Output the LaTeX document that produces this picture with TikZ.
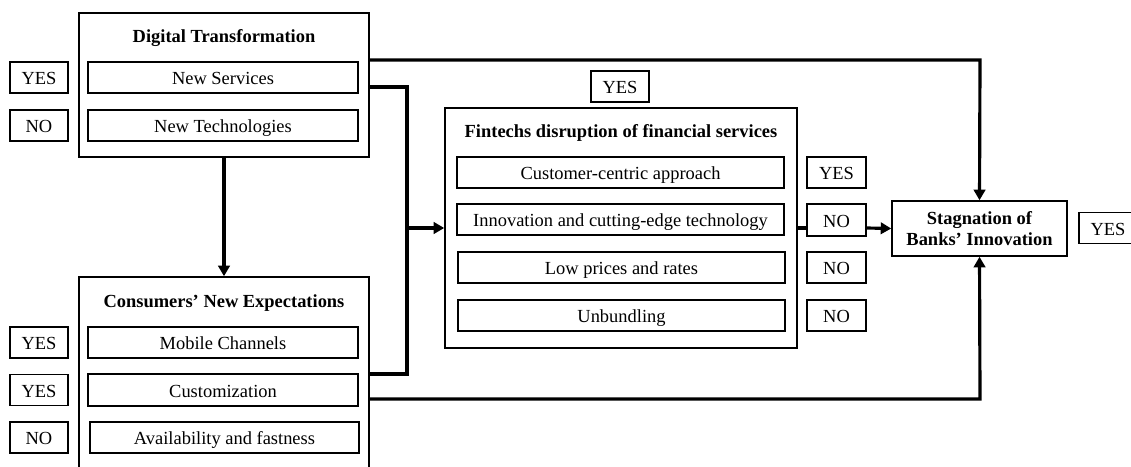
\documentclass[tikz,border=0pt]{standalone}
\usepackage{fontspec}
\setmainfont{Liberation Serif}
\usetikzlibrary{arrows.meta,calc}
\begin{document}
\begin{tikzpicture}[x=0.02cm,y=-0.02cm,
  font=\fontsize{10.5}{12}\selectfont,
  rbox/.style 2 args={draw, line width=0.85pt, inner sep=0pt,
    minimum width=#1*0.02cm, minimum height=#2*0.02cm,
    text height=8pt, text depth=0pt},
  item/.style={rbox={270}{31}},
  fitem/.style={rbox={327}{31}},
  ans/.style={rbox={58}{31}},
  ttl/.style={font=\fontsize{10.5}{12}\selectfont\bfseries, align=center},
  conn/.style={line width=1.8pt},
  arr/.style={conn, -{Triangle[length=6pt,width=6.5pt]}}]
\useasboundingbox (0,0) rectangle (1131,466);
\clip (0,0) rectangle (1131,466);

% Digital Transformation group
\node[rbox={290}{144}] (dt) at (224,85) {};
\node[ttl] (dtt) at (224,38) {Digital Transformation};
\node[item] (ns) at (223,77.5) {New Services};
\node[item] (nt) at (223,125.5) {New Technologies};
\node[ans] (a1) at (39,77.5) {YES};
\node[ans] (a2) at (39,125.5) {NO};

% Consumers' New Expectations group (runs past the lower edge)
\node[rbox={290}{222}] (cne) at (224,388) {};
\node[ttl] (cnet) at (224,303) {Consumers’ New Expectations};
\node[item] (mc) at (223,342.5) {Mobile Channels};
\node[rbox={270}{32}] (cu) at (223,390) {Customization};
\node[rbox={269}{31}] (av) at (224.5,437.5) {Availability and fastness};
\node[ans] (a3) at (39,342.5) {YES};
\node[ans] (a4) at (39,390) {YES};
\node[ans] (a5) at (39,437.5) {NO};

% Fintechs group
\node[rbox={352}{240}] (fd) at (621,228) {};
\node[ans] (fy) at (620,86.5) {YES};
\node[ttl] (fdt) at (621,133) {Fintechs disruption of financial services};
\node[fitem] (cc) at (620.5,172.5) {Customer-centric approach};
\node[fitem] (in) at (620.5,219.5) {Innovation and cutting-edge technology};
\node[rbox={327}{31}] (lp) at (621.5,267.5) {Low prices and rates};
\node[rbox={327}{31}] (ub) at (621.5,315.5) {Unbundling};
\node[rbox={59}{31}] (b1) at (836.5,172.5) {YES};
\node[rbox={59}{32}] (b2) at (836.5,220) {NO};
\node[rbox={59}{31}] (b3) at (836.5,267.5) {NO};
\node[rbox={59}{31}] (b4) at (836.5,315.5) {NO};

% Outcome
\node[draw, line width=0.85pt, inner sep=0pt, minimum width=175*0.02cm,
  minimum height=55*0.02cm, ttl] (sb) at (979.5,228.5) {Stagnation of\\Banks’ Innovation};
\node[ans] (sy) at (1108,228) {YES};

% Connectors
\coordinate (top) at (980,60);
\coordinate (j1) at (407,87);
\coordinate (j2) at (407,374);
\coordinate (j3) at (407,228);
\coordinate (bot) at (980,399);

\draw[arr] (dt.east |- top) -- (top) -- (sb.north);
\draw[conn] (dt.east |- j1) -- (j1) -- (j2) -- (cne.east |- j2);
\draw[arr] (j3) -- (fd.west);
\draw[arr] (dt.south) -- (cne.north);
\draw[conn] (fd.east) -- (fd.east -| b2.west);
\draw[arr] (b2.east |- fd.east) -- (sb.west);
\draw[arr] (cne.east |- bot) -- (bot) -- (sb.south);
\end{tikzpicture}
\end{document}
